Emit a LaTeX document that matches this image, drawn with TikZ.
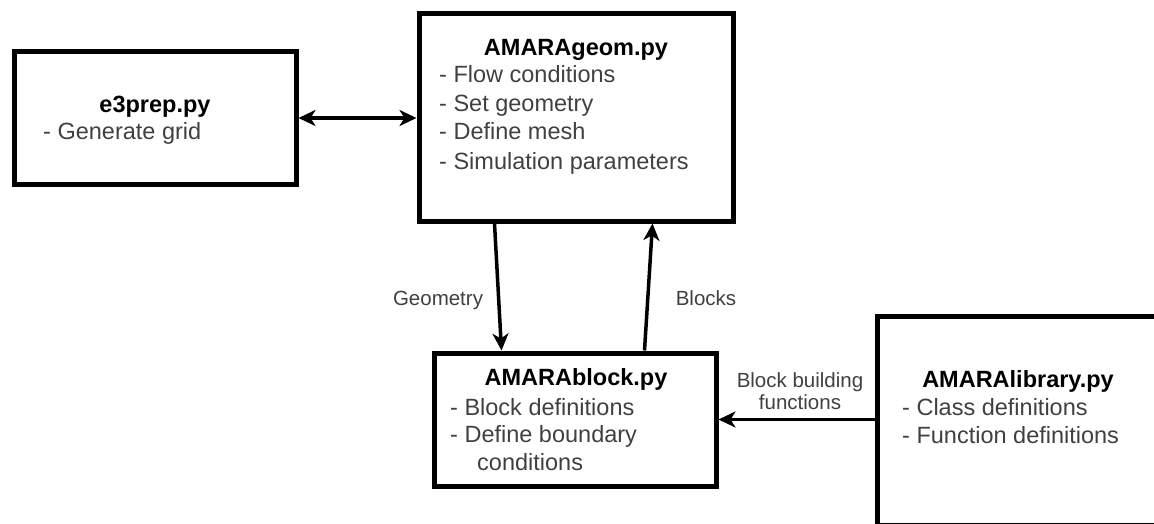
\documentclass[tikz,border=0pt]{standalone}
\usepackage{fontspec}
\setmainfont{Liberation Sans}
\usetikzlibrary{arrows.meta,calc}
\definecolor{txt}{HTML}{404040}
\tikzset{
  box/.style={draw, line width=5pt, minimum width=282pt, inner sep=0pt},
  tip/.tip={Stealth[length=17pt,width=16pt,inset=5pt]},
  arr/.style={line width=3.5pt, -tip},
  title/.style={font=\fontsize{23.5}{28}\selectfont\bfseries, anchor=base, inner sep=0pt},
  item/.style={font=\fontsize{23.5}{28}\selectfont, text=txt, anchor=base west, inner sep=0pt},
  lbl/.style={font=\fontsize{20.5}{22}\selectfont, text=txt, anchor=base, inner sep=0pt}
}
\begin{document}
\begin{tikzpicture}[x=1pt,y=-1pt]
\useasboundingbox (0,0) rectangle (1154,524);
\clip (0,0) rectangle (1154,524);
% boxes
\node[box, minimum height=132pt] (e3) at (155,118) {};
\node[box, minimum width=314pt, minimum height=207pt] (geom) at (576,117.5) {};
\node[box, minimum height=133pt] (blk) at (575,419.5) {};
\node[box, minimum height=209pt] (lib) at (1018,420.5) {};
% e3prep text
\node[title] (e3t) at (155,113) {e3prep.py};
\node[item] (e3a) at (43,140) {- Generate grid};
% AMARAgeom text
\node[title] (geomt) at (576,56) {AMARAgeom.py};
\node[item] (geoma) at (439,83) {- Flow conditions};
\node[item] (geomb) at (439,112) {- Set geometry};
\node[item] (geomc) at (439,140) {- Define mesh};
\node[item] (geomd) at (439,169) {- Simulation parameters};
% AMARAblock text
\node[title] (blkt) at (576,385) {AMARAblock.py};
\node[item] (blka) at (450,415) {- Block definitions};
\node[item] (blkb) at (450,442) {- Define boundary};
\node[item] (blkc) at (477,470) {conditions};
% AMARAlibrary text
\node[title] (libt) at (1018,387) {AMARAlibrary.py};
\node[item] (liba) at (902,415) {- Class definitions};
\node[item] (libb) at (902,443) {- Function definitions};
% connectors
\draw[arr, tip-tip] (e3.east) -- (e3.east -| geom.west);
\draw[arr] ($(geom.south west)+(78,0)$) -- ($(blk.north west)+(70,0)$);
\draw[arr] ($(blk.north west)+(213,0)$) -- ($(geom.south west)+(236,0)$);
\draw[arr] (blk.east -| lib.west) -- (blk.east);
% labels
\node[lbl] (lgeo) at (438,305) {Geometry};
\node[lbl] (lblk) at (706,305) {Blocks};
\node[lbl] (lbb1) at (800,387) {Block building};
\node[lbl] (lbb2) at (800,409) {functions};
\end{tikzpicture}
\end{document}
